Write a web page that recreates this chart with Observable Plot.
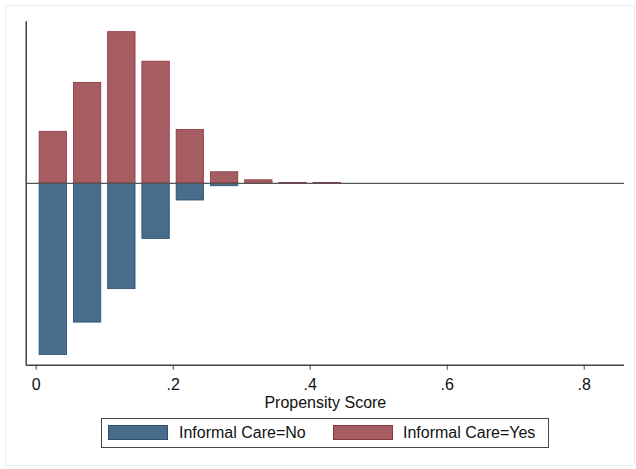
<!DOCTYPE html>
<html>
<head>
<meta charset="utf-8">
<script src="https://cdn.jsdelivr.net/npm/d3@7"></script>
<script src="https://cdn.jsdelivr.net/npm/@observablehq/plot@0.6"></script>
<style>
  html, body { margin: 0; padding: 0; background: #fff; }
  #wrap { position: relative; width: 636px; height: 469px; overflow: hidden; font-family: "Liberation Sans", Arial, sans-serif; }
  #frame { position: absolute; left: 5px; top: 5px; width: 630px; height: 461px; border: 1px solid #ececec; box-sizing: border-box; }
  #chart { position: absolute; left: 0; top: 0; }
  #chart svg text { font-family: "Liberation Sans", Arial, sans-serif !important; font-size: 16px !important; fill: #111; }
  #legend { position: absolute; left: 101px; top: 418px; width: 448px; height: 30px; border: 1px solid #444; box-sizing: border-box; background: #fff; }
  .sw { position: absolute; top: 6px; width: 60px; height: 15px; box-sizing: border-box; }
  .lt { position: absolute; top: 5px; font-size: 16px; line-height: 18px; color: #111; white-space: nowrap; }
</style>
</head>
<body>
<div id="wrap">
  <div id="frame"></div>
  <div id="chart"></div>
  <div id="legend"></div>
</div>
<script>
// Data
const binCenters = [0.025, 0.075, 0.125, 0.175, 0.225, 0.275, 0.325, 0.375, 0.425];
const yesFraction = [0.1045, 0.204, 0.307, 0.247, 0.1085, 0.0224, 0.0061, 0.0004, 0.0004];
const noFraction  = [0.349, 0.283, 0.215, 0.113, 0.035, 0.006, 0, 0.0004, 0.0004];
const xTicks = [0, 0.2, 0.4, 0.6, 0.8];
const xTickLabels = ["0", ".2", ".4", ".6", ".8"];
const seriesNames = ["Informal Care=No", "Informal Care=Yes"];

const blueFill = "#486c8c", blueStroke = "#2a4d70";
const redFill = "#a65d62", redStroke = "#8e3640";
const halfW = 0.02;

const rows = binCenters.map((c, i) => ({x1: c - halfW, x2: c + halfW, yes: yesFraction[i], no: -noFraction[i]}));
const xDom = [-0.0146, 0.8588];
const yDom = [-0.3695, 0.328];

const chart = Plot.plot({
  width: 636,
  height: 412,
  marginLeft: 25.7,
  marginRight: 12,
  marginTop: 21.3,
  marginBottom: 47.3,
  style: {fontFamily: "'Liberation Sans', Arial, sans-serif", fontSize: "16px", color: "#111", background: "transparent"},
  x: {domain: xDom},
  y: {domain: yDom, axis: null},
  marks: [
    Plot.rect(rows.filter(d => d.no !== 0), {x1: "x1", x2: "x2", y1: 0, y2: "no", fill: blueFill, stroke: blueStroke, strokeWidth: 0.8}),
    Plot.rect(rows.filter(d => d.yes !== 0), {x1: "x1", x2: "x2", y1: 0, y2: "yes", fill: redFill, stroke: redStroke, strokeWidth: 0.8}),
    Plot.ruleY([0], {x1: xDom[0], x2: xDom[1], stroke: "#555", strokeWidth: 1.3}),
    Plot.ruleX([xDom[0]], {y1: yDom[0], y2: yDom[1], stroke: "#444", strokeWidth: 1.5}),
    Plot.ruleY([yDom[0]], {x1: xDom[0], x2: xDom[1], stroke: "#444", strokeWidth: 1.5}),
    Plot.axisX({
      ticks: xTicks,
      tickFormat: (d) => xTickLabels[xTicks.indexOf(d)],
      tickSize: 5,
      tickPadding: 8,
      stroke: "#444",
      fontSize: 16,
      label: "Propensity Score",
      labelAnchor: "center",
      labelArrow: "none",
      labelOffset: 43
    })
  ]
});
document.getElementById("chart").appendChild(chart);

// Legend
const legend = document.getElementById("legend");
const items = [
  {name: seriesNames[0], fill: blueFill, stroke: blueStroke, sx: 6, tx: 77},
  {name: seriesNames[1], fill: redFill, stroke: redStroke, sx: 231, tx: 301}
];
items.forEach(it => {
  const s = document.createElement("div");
  s.className = "sw";
  s.style.left = it.sx + "px";
  s.style.background = it.fill;
  s.style.border = "1px solid " + it.stroke;
  legend.appendChild(s);
  const t = document.createElement("div");
  t.className = "lt";
  t.style.left = it.tx + "px";
  t.textContent = it.name;
  legend.appendChild(t);
});
</script>
</body>
</html>
